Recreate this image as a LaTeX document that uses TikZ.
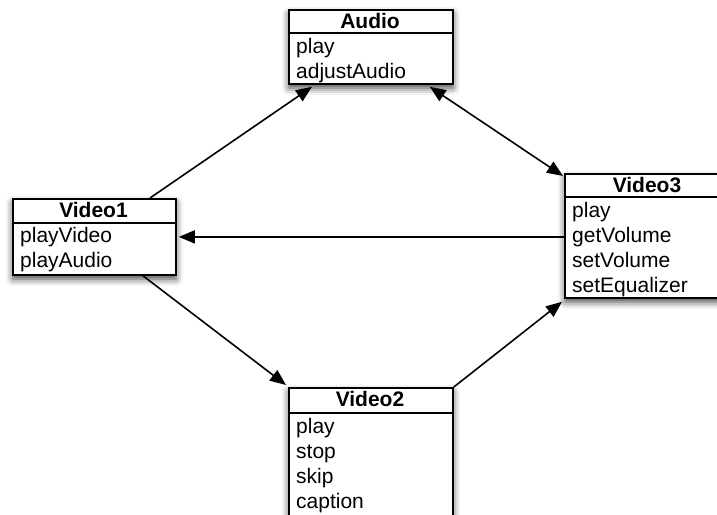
\documentclass[tikz,border=0pt]{standalone}
\usepackage{fontspec}
\setmainfont{Liberation Sans}
\newfontfamily\ufont{Liberation Sans}
\usetikzlibrary{arrows.meta,shadows.blur,calc}
\begin{document}
\begin{tikzpicture}[x=1pt,y=-1pt,
  umlbox/.style={draw=black, line width=1.8pt, fill=white, anchor=north west, inner sep=0pt,
    blur shadow={shadow xshift=0pt, shadow yshift=-4pt, shadow blur radius=7pt, shadow opacity=75}},
  sepline/.style={line width=1.8pt},
  ttl/.style={anchor=base, inner sep=0pt, font=\ufont\fontsize{21}{25}\selectfont\bfseries},
  itm/.style={anchor=base west, inner sep=0pt, font=\ufont\fontsize{21}{25}\selectfont},
  conn/.style={line width=1.6pt, -{Triangle[length=16pt,width=13pt]}},
]
\useasboundingbox (0,0) rectangle (717,514);
\clip (0,0) rectangle (717,514);

% Audio
\node[umlbox, minimum width=164pt, minimum height=74pt] (audio) at (288,9) {};
\draw[sepline] ($(audio.north west)+(0,24)$) -- ($(audio.north east)+(0,24)$);
\node[ttl] (audiot) at (370,28) {Audio};
\node[itm] (audio1) at (296,53) {play};
\node[itm] (audio2) at (296,78) {adjustAudio};

% Video1
\node[umlbox, minimum width=163pt, minimum height=76pt] (v1) at (12,198) {};
\draw[sepline] ($(v1.north west)+(0,25)$) -- ($(v1.north east)+(0,25)$);
\node[ttl] (v1t) at (93.5,217) {Video1};
\node[itm] (v1a) at (20,242) {playVideo};
\node[itm] (v1b) at (20,267) {playAudio};

% Video3
\node[umlbox, minimum width=166pt, minimum height=124pt] (v3) at (564,173) {};
\draw[sepline] ($(v3.north west)+(0,24)$) -- ($(v3.north east)+(0,24)$);
\node[ttl] (v3t) at (647,192) {Video3};
\node[itm] (v3a) at (572,217) {play};
\node[itm] (v3b) at (572,242) {getVolume};
\node[itm] (v3c) at (572,267) {setVolume};
\node[itm] (v3d) at (572,292) {setEqualizer};

% Video2
\node[umlbox, minimum width=164pt, minimum height=143pt] (v2) at (288,387) {};
\draw[sepline] ($(v2.north west)+(0,26)$) -- ($(v2.north east)+(0,26)$);
\node[ttl] (v2t) at (370,406) {Video2};
\node[itm] (v2a) at (296,433) {play};
\node[itm] (v2b) at (296,458) {stop};
\node[itm] (v2c) at (296,483) {skip};
\node[itm] (v2d) at (296,508) {caption};

% connectors
\draw[conn] ($(v1.north west)+(138,0)$) -- ($(audio.south west)+(24,2)$);
\draw[line width=1.6pt, {Triangle[length=16pt,width=13pt]}-{Triangle[length=16pt,width=13pt]}]
  ($(audio.south east)+(-24,2)$) -- ($(v3.north west)+(-1,3)$);
\draw[conn] (v3.west |- v1.east) -- ($(v1.east)+(2,0)$);
\draw[conn] ($(v1.south west)+(131,0)$) -- ($(v2.north west)+(-2,-2)$);
\draw[conn] (v2.north east) -- ($(v3.south west)+(-2,3)$);
\end{tikzpicture}
\end{document}
